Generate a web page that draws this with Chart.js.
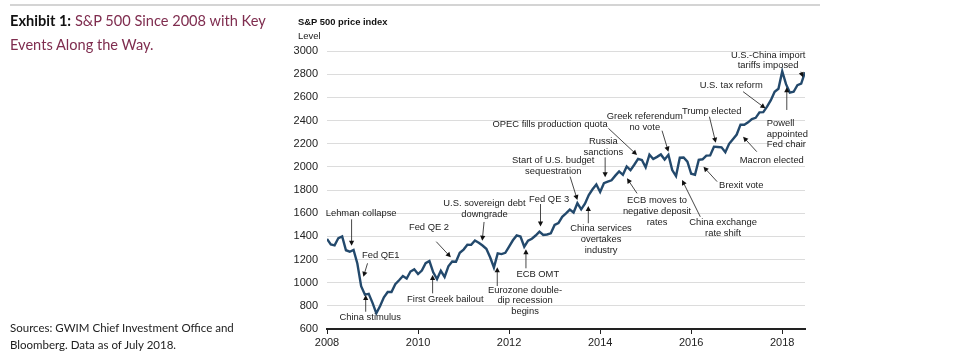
<!DOCTYPE html>
<html>
<head>
<meta charset="utf-8">
<script src="https://cdn.jsdelivr.net/npm/chart.js@4.4.1/dist/chart.umd.min.js"></script>
<style>
  html, body { margin:0; padding:0; background:#fff; }
  #wrap { position:relative; width:959px; height:360px; overflow:hidden; }
  #c { position:absolute; left:0; top:0; }
  .rule { position:absolute; left:10px; top:4px; width:810px; height:2px; background:#d4d4d4; }
  .title { position:absolute; left:10px; top:9px; font-family:Lato, "Open Sans", sans-serif; font-size:14.6px; line-height:24px; color:#7f2d4f; }
  .title b { color:#111; }
  .src { position:absolute; left:10px; top:319px; font-family:Lato, "Open Sans", sans-serif; font-size:11.5px; line-height:17px; color:#222; }
  .yt { position:absolute; left:298px; top:16px; font-family:"Liberation Sans", Arial, sans-serif; font-size:9.4px; font-weight:bold; color:#111; }
  .yl { position:absolute; left:298px; top:30px; font-family:"Liberation Sans", Arial, sans-serif; font-size:9.5px; color:#222; }
</style>
</head>
<body>
<div id="wrap">
  <canvas id="c" width="959" height="360"></canvas>
  <div class="rule"></div>
  <div class="title"><b>Exhibit 1:</b> S&amp;P 500 Since 2008 with Key<br>Events Along the Way.</div>
  <div class="src">Sources: GWIM Chief Investment Office and<br>Bloomberg. Data as of July 2018.</div>
  <div class="yt">S&amp;P 500 price index</div>
  <div class="yl">Level</div>
</div>
<script>
// Monthly S&P 500 level, Jan 2008 .. Jul 2018
const firstYear = 2008;
const sp500Monthly = [
  1378, 1330, 1322, 1385, 1400, 1280, 1267, 1283, 1166, 969, 896, 903,      // 2008
  826, 735, 798, 873, 919, 919, 987, 1021, 1057, 1036, 1096, 1115,          // 2009
  1074, 1104, 1169, 1187, 1089, 1031, 1102, 1049, 1141, 1183, 1181, 1258,   // 2010
  1286, 1327, 1326, 1364, 1345, 1321, 1292, 1219, 1131, 1253, 1247, 1258,   // 2011
  1312, 1366, 1408, 1398, 1310, 1362, 1379, 1407, 1441, 1412, 1416, 1426,   // 2012
  1498, 1515, 1569, 1598, 1631, 1606, 1686, 1633, 1682, 1757, 1806, 1848,   // 2013
  1783, 1859, 1872, 1884, 1924, 1960, 1931, 2003, 1972, 2018, 2068, 2059,   // 2014
  1995, 2105, 2068, 2086, 2107, 2063, 2104, 1972, 1920, 2079, 2080, 2044,   // 2015
  1940, 1932, 2060, 2065, 2097, 2099, 2174, 2171, 2168, 2126, 2199, 2239,   // 2016
  2279, 2364, 2363, 2384, 2412, 2423, 2470, 2472, 2519, 2575, 2648, 2674,   // 2017
  2824, 2714, 2641, 2648, 2705, 2718, 2816                                  // 2018
];
const xTickYears = [2008, 2010, 2012, 2014, 2016, 2018];
const yTickLevels = [600, 800, 1000, 1200, 1400, 1600, 1800, 2000, 2200, 2400, 2600, 2800, 3000];

// Event notes: text centre (tx, ty) and arrow from (a0) to tip (a1), in data units (year, level)
const eventNotes = [
  { lines:["Lehman collapse"], tx:2008.75, ty:1599, a0:[2008.54,1547], a1:[2008.54,1319] },
  { lines:["Fed QE1"], tx:2009.18, ty:1239, a0:[2008.89,1167], a1:[2008.80,1051] },
  { lines:["China stimulus"], tx:2008.95, ty:701, a0:[2008.85,749], a1:[2008.85,894] },
  { lines:["Fed QE 2"], tx:2010.24, ty:1475, a0:[2010.40,1354], a1:[2010.72,1219] },
  { lines:["First Greek bailout"], tx:2010.60, ty:856, a0:[2010.32,908], a1:[2010.32,1066] },
  { lines:["U.S. sovereign debt","downgrade"], tx:2011.46, ty:1636, a0:[2011.45,1524], a1:[2011.41,1362] },
  { lines:["Eurozone double-","dip recession","begins"], tx:2012.35, ty:844, a0:[2011.74,971], a1:[2011.74,1133] },
  { lines:["ECB OMT"], tx:2012.63, ty:1075, a0:[2012.37,1124], a1:[2012.37,1288] },
  { lines:["Fed QE 3"], tx:2012.88, ty:1721, a0:[2012.69,1679], a1:[2012.69,1485] },
  { lines:["Start of U.S. budget","sequestration"], tx:2012.97, ty:2005, a0:[2013.34,1915], a1:[2013.50,1714] },
  { lines:["China services","overtakes","industry"], tx:2014.02, ty:1375, a0:[2013.74,1513], a1:[2013.74,1662] },
  { lines:["Russia","sanctions"], tx:2014.07, ty:2171, a0:[2014.11,2082], a1:[2014.11,1910] },
  { lines:["OPEC fills production quota"], tx:2012.90, ty:2370, a0:[2014.18,2333], a1:[2014.81,2102] },
  { lines:["Greek referendum","no vote"], tx:2014.98, ty:2390, a0:[2015.36,2312], a1:[2015.50,2131] },
  { lines:["ECB moves to","negative deposit","rates"], tx:2015.25, ty:1616, a0:[2014.81,1771], a1:[2014.59,1901] },
  { lines:["China exchange","rate shift"], tx:2016.70, ty:1472, a0:[2016.20,1569], a1:[2015.80,1886] },
  { lines:["Brexit vote"], tx:2017.10, ty:1843, a0:[2016.57,1872], a1:[2016.27,2001] },
  { lines:["Trump elected"], tx:2016.45, ty:2476, a0:[2016.40,2433], a1:[2016.54,2208] },
  { lines:["Macron elected"], tx:2017.77, ty:2059, a0:[2017.44,2131], a1:[2017.14,2260] },
  { lines:["U.S. tax reform"], tx:2016.88, ty:2700, a0:[2017.14,2649], a1:[2017.63,2505] },
  { lines:["Powell","appointed","Fed chair"], tx:2017.66, ty:2283, align:"left", a0:[2018.10,2491], a1:[2018.10,2687] },
  { lines:["U.S.-China import","tariffs imposed"], tx:2017.69, ty:2918, a0:[2018.41,2821], a1:[2018.455,2773] }
];

const points = sp500Monthly.map((v, i) => ({ x: firstYear + i / 12, y: v }));
const FONT = '"Liberation Sans", Arial, sans-serif';

const notesPlugin = {
  id: 'notes',
  afterDatasetsDraw(chart) {
    const { ctx, scales: { x, y } } = chart;
    ctx.save();
    ctx.font = '9.4px ' + FONT;
    ctx.fillStyle = '#222';
    ctx.strokeStyle = '#333';
    ctx.textBaseline = 'middle';
    const lh = 10.7;
    eventNotes.forEach(n => {
      const px = x.getPixelForValue(n.tx), py = y.getPixelForValue(n.ty);
      ctx.textAlign = n.align || 'center';
      n.lines.forEach((l, i) => ctx.fillText(l, px, py + (i - (n.lines.length - 1) / 2) * lh));
      const x0 = x.getPixelForValue(n.a0[0]), y0 = y.getPixelForValue(n.a0[1]);
      const x1 = x.getPixelForValue(n.a1[0]), y1 = y.getPixelForValue(n.a1[1]);
      const ang = Math.atan2(y1 - y0, x1 - x0);
      const hl = 5, hw = 2.6;
      ctx.lineWidth = 0.9;
      ctx.beginPath();
      ctx.moveTo(x0, y0);
      ctx.lineTo(x1 - Math.cos(ang) * hl * 0.8, y1 - Math.sin(ang) * hl * 0.8);
      ctx.stroke();
      ctx.beginPath();
      ctx.moveTo(x1, y1);
      ctx.lineTo(x1 - Math.cos(ang) * hl - Math.sin(ang) * hw, y1 - Math.sin(ang) * hl + Math.cos(ang) * hw);
      ctx.lineTo(x1 - Math.cos(ang) * hl + Math.sin(ang) * hw, y1 - Math.sin(ang) * hl - Math.cos(ang) * hw);
      ctx.closePath();
      ctx.fillStyle = '#111';
      ctx.fill();
      ctx.fillStyle = '#222';
    });
    ctx.restore();
  }
};

new Chart(document.getElementById('c'), {
  type: 'line',
  data: {
    datasets: [{
      data: points,
      borderColor: '#23496c',
      borderWidth: 2.4,
      pointRadius: 0,
      tension: 0,
      fill: false
    }]
  },
  options: {
    responsive: false,
    animation: false,
    layout: { padding: { left: 289, right: 154, top: 51, bottom: 0 } },
    plugins: { legend: { display: false }, tooltip: { enabled: false } },
    scales: {
      x: {
        type: 'linear',
        min: 2008,
        max: 2018.5,
        afterBuildTicks: s => { s.ticks = xTickYears.map(v => ({ value: v })); },
        afterFit: s => { s.height = 31; },
        grid: { drawOnChartArea: false, drawTicks: true, tickLength: 5, color: '#222', lineWidth: 1 },
        border: { display: true, color: '#222', width: 2 },
        ticks: { color: '#222', font: { family: FONT, size: 11 }, padding: 2, maxRotation: 0, callback: v => String(v) }
      },
      y: {
        min: 600,
        max: 3000,
        afterBuildTicks: s => { s.ticks = yTickLevels.map(v => ({ value: v })); },
        afterFit: s => { s.width = 38; },
        grid: { color: '#dcdcdc', lineWidth: 1, drawTicks: false },
        border: { display: false },
        ticks: { color: '#222', font: { family: FONT, size: 11 }, padding: 9, callback: v => String(v) }
      }
    }
  },
  plugins: [notesPlugin]
});
</script>
</body>
</html>
